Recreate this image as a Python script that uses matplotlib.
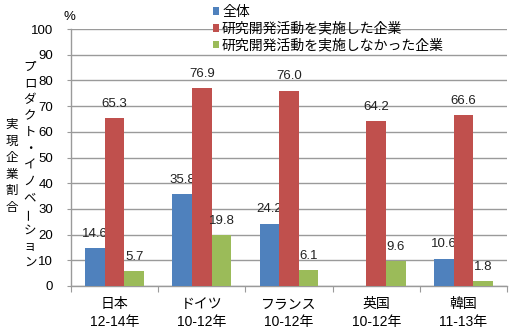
import numpy as np
import matplotlib
matplotlib.use("Agg")
import matplotlib.pyplot as plt
from matplotlib.patches import Patch

plt.rcParams['font.family'] = ['Liberation Sans', 'Noto Sans CJK JP', 'DejaVu Sans']

countries = ["日本", "ドイツ", "フランス", "英国", "韓国"]
periods = ["12-14年", "10-12年", "10-12年", "10-12年", "11-13年"]
series_names = ["全体", "研究開発活動を実施した企業", "研究開発活動を実施しなかった企業"]
overall = [14.6, 35.8, 24.2, np.nan, 10.6]
with_rd = [65.3, 76.9, 76.0, 64.2, 66.6]
without_rd = [5.7, 19.8, 6.1, 9.6, 1.8]
yticks = list(range(0, 101, 10))

colors = ["#4F81BD", "#C0504D", "#9BBB59"]
series = [overall, with_rd, without_rd]

fig = plt.figure(figsize=(5.10, 3.33), dpi=100)
ax = fig.add_axes([71 / 510, 1 - 286 / 333, (507 - 71) / 510, (286 - 29) / 333])

x = np.arange(len(countries))
w = 0.225
for i, (vals, c) in enumerate(zip(series, colors)):
    pos = x + (i - 1) * w
    ax.bar(pos, vals, width=w, color=c, zorder=3)
    for px, v in zip(pos, vals):
        if not np.isnan(v):
            ax.annotate(f"{v:.1f}", (px, v), xytext=(0, 6), textcoords="offset points",
                        ha="center", va="bottom", fontsize=9.5, color="#222222")

ax.set_xlim(-0.5, len(countries) - 0.5)
ax.set_ylim(0, 100)
ax.set_yticks(yticks)
ax.yaxis.grid(True, color="#9a9a9a", linewidth=1.0, zorder=0)
ax.set_axisbelow(True)

ax.set_xticks(np.arange(len(countries) + 1) - 0.5)
ax.set_xticklabels([])
ax.set_xticks(x, minor=True)
ax.set_xticklabels([f"{c}\n{p}" for c, p in zip(countries, periods)], minor=True,
                   fontsize=10, linespacing=1.35)
ax.tick_params(axis="x", which="minor", length=0, pad=8)
ax.tick_params(axis="x", which="major", length=4, color="#9a9a9a", direction="out")
ax.tick_params(axis="y", length=3, color="#9a9a9a", pad=10, labelsize=9.5)

for s in ["top", "right"]:
    ax.spines[s].set_visible(False)
for s in ["left", "bottom"]:
    ax.spines[s].set_color("#9a9a9a")
    ax.spines[s].set_linewidth(1.0)

fig.text(69 / 510, 1 - 17 / 333, "%", ha="center", va="center", fontsize=9.5)

# vertical axis title, written top to bottom in two columns
def vertical_text(xpix, ytop, step, s):
    for k, ch in enumerate(s):
        rot = 90 if ch == "ー" else 0
        fig.text(xpix / 510, 1 - (ytop + k * step) / 333, ch, ha="center", va="center",
                 fontsize=9, rotation=rot)

vertical_text(30, 68, 16.25, "プロダクト・イノベーション")
vertical_text(12, 125, 16.6, "実現企業割合")

handles = [Patch(facecolor=c, edgecolor="none") for c in colors]
fig.legend(handles, series_names, loc="upper left", bbox_to_anchor=(213 / 510, 1 - 5 / 333),
           frameon=False, fontsize=10, handlelength=0.45, handleheight=0.45,
           handletextpad=0.2, labelspacing=0.2, borderpad=0, borderaxespad=0)

fig.savefig("out.png", dpi=100)
